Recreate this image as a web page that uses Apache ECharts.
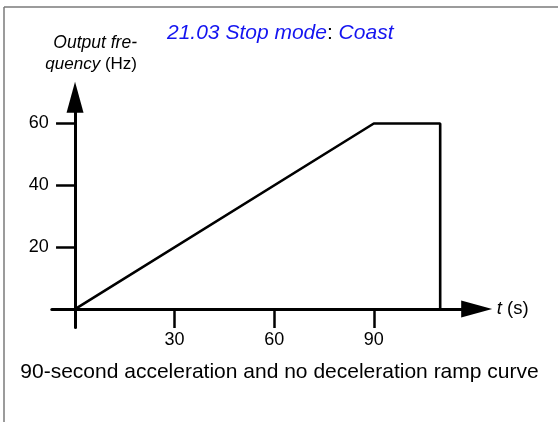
<!DOCTYPE html>
<html><head><meta charset="utf-8">
<script src="https://cdn.jsdelivr.net/npm/echarts@6/dist/echarts.min.js"></script>
<style>html,body{margin:0;padding:0;background:#fff}#c{width:558px;height:422px}</style>
</head><body><div id="c"></div>
<script>
// Data
const timeS = [0, 90, 110, 110];
const freqHz = [0, 60, 60, 0];
const xTickValues = [30, 60, 90];
const yTickValues = [20, 40, 60];
const titleParam = '21.03 Stop mode';
const titleValue = 'Coast';
const yNameLine1 = 'Output fre-';
const yNameItalic = 'quency';
const yNameUnit = '(Hz)';
const xNameVar = 't';
const xNameUnit = '(s)';
const caption = '90-second acceleration and no deceleration ramp curve';

const FONT = '"Liberation Sans", Arial, sans-serif';
const BLUE = '#1414f0';
const chart = echarts.init(document.getElementById('c'), null, {renderer: 'canvas'});
chart.setOption({
  animation: false,
  backgroundColor: '#fff',
  grid: {left: 51.8, right: 81.3, top: 97.2, bottom: 94.4, containLabel: false, outerBoundsMode: 'none'},
  xAxis: {
    type: 'value', min: -7, max: 121,
    axisLine: {show: true, onZero: true, symbol: ['none', 'triangle'], symbolSize: [17, 31],
      lineStyle: {color: '#000', width: 3}},
    axisTick: {show: true, customValues: xTickValues, length: 19, lineStyle: {color: '#000', width: 2.5}},
    axisLabel: {customValues: xTickValues, margin: 3, fontSize: 18, color: '#000', fontFamily: FONT},
    splitLine: {show: false},
    name: '{i|' + xNameVar + '} ' + xNameUnit,
    nameLocation: 'end', nameGap: 20,
    nameTextStyle: {fontSize: 18.5, color: '#000', fontFamily: FONT, align: 'left', verticalAlign: 'middle',
      rich: {i: {fontStyle: 'italic', fontSize: 18.5, color: '#000', fontFamily: FONT}}}
  },
  yAxis: {
    type: 'value', min: -6, max: 68.5,
    axisLine: {show: true, onZero: true, symbol: ['none', 'triangle'], symbolSize: [17, 31],
      lineStyle: {color: '#000', width: 3}},
    axisTick: {show: true, customValues: yTickValues, length: 19, lineStyle: {color: '#000', width: 2.5}},
    axisLabel: {customValues: yTickValues, margin: 3, fontSize: 18, color: '#000', fontFamily: FONT},
    splitLine: {show: false}
  },
  series: [{
    type: 'line',
    data: timeS.map((t, i) => [t, freqHz[i]]),
    symbol: 'none',
    lineStyle: {color: '#000', width: 2.6},
    z: 5
  }],
  graphic: [
    {type: 'line', shape: {x1: 4, y1: 7, x2: 4, y2: 422}, style: {stroke: '#7a7a7a', lineWidth: 1.5}, silent: true},
    {type: 'line', shape: {x1: 4, y1: 7, x2: 558, y2: 7}, style: {stroke: '#7a7a7a', lineWidth: 1.5}, silent: true},
    {type: 'text', x: 167, y: 33, silent: true, style: {
      text: '{b|' + titleParam + '}{k|:} {b|' + titleValue + '}',
      verticalAlign: 'middle', align: 'left',
      rich: {
        b: {fontSize: 21, fontStyle: 'italic', fill: BLUE, fontFamily: FONT},
        k: {fontSize: 21, fill: '#000', fontFamily: FONT}
      },
      font: '21px ' + FONT
    }},
    {type: 'text', x: 137, y: 43, silent: true, style: {
      text: yNameLine1, align: 'right', verticalAlign: 'middle',
      font: 'italic 17.5px ' + FONT, fill: '#000'
    }},
    {type: 'text', x: 137, y: 64, silent: true, style: {
      text: '{i|' + yNameItalic + '} {n|' + yNameUnit + '}', align: 'right', verticalAlign: 'middle',
      rich: {
        i: {fontSize: 17, fontStyle: 'italic', fill: '#000', fontFamily: FONT},
        n: {fontSize: 17, fill: '#000', fontFamily: FONT}
      },
      font: '17px ' + FONT
    }},
    {type: 'text', x: 279.5, y: 372.5, silent: true, style: {
      text: caption, align: 'center', verticalAlign: 'middle',
      font: '21px ' + FONT, fill: '#000'
    }}
  ]
});
</script>
</body></html>
